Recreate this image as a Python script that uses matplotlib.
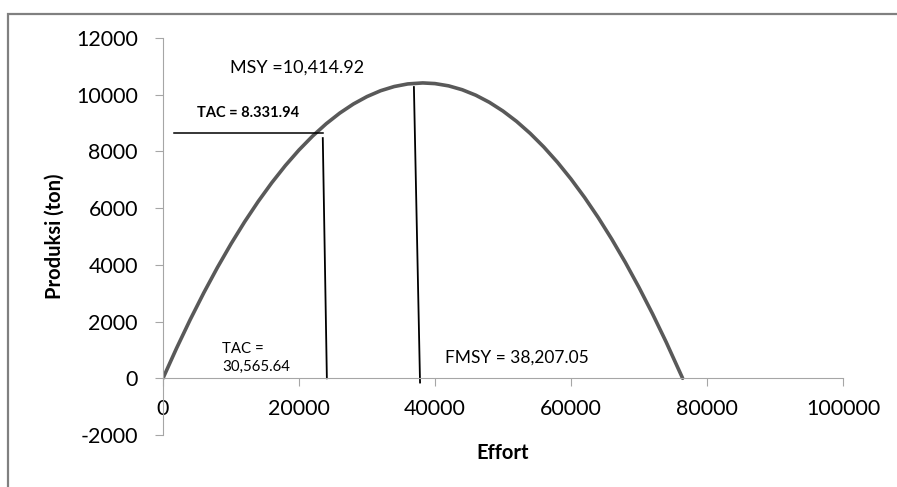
import matplotlib.pyplot as plt
from matplotlib.patches import Rectangle

plt.rcParams['font.family'] = ['Lato', 'DejaVu Sans']
plt.rcParams['axes.unicode_minus'] = False

# Surplus production curve
effort = [0, 2000, 4000, 6000, 8000, 10000, 12000, 14000, 16000, 18000, 20000,
          22000, 24000, 26000, 28000, 30000, 32000, 34000, 36000, 38207, 40000,
          42000, 44000, 46000, 48000, 50000, 52000, 54000, 56000, 58000, 60000,
          62000, 64000, 66000, 68000, 70000, 72000, 74000, 76414]
produksi = [0, 1062, 2067, 3014, 3905, 4738, 5515, 6234, 6896, 7502, 8050,
            8541, 8975, 9352, 9672, 9934, 10140, 10288, 10380, 10415, 10392,
            10312, 10175, 9982, 9731, 9423, 9058, 8635, 8156, 7620, 7026,
            6376, 5669, 4904, 4082, 3203, 2268, 1274, 0]

# Reference lines (as drawn in the chart)
tac_h_effort = [1600, 23500]
tac_h_catch = [8650, 8650]
tac_v_effort = [23500, 24100]
tac_v_catch = [8470, 0]
msy_v_effort = [36900, 37800]
msy_v_catch = [10270, -150]

xticks = [0, 20000, 40000, 60000, 80000, 100000]
yticks = [-2000, 0, 2000, 4000, 6000, 8000, 10000, 12000]

fig = plt.figure(figsize=(8.97, 4.87), dpi=100)
ax = fig.add_axes([0.1817, 0.1068, 0.7581, 0.8152])

ax.plot(effort, produksi, color='#595959', lw=2.6, solid_capstyle='round', solid_joinstyle='round')
ax.plot(tac_h_effort, tac_h_catch, color='black', lw=1.1)
ax.plot(tac_v_effort, tac_v_catch, color='black', lw=1.3)
ax.plot(msy_v_effort, msy_v_catch, color='black', lw=1.3)

ax.set_xlim(0, 100000)
ax.set_ylim(-2000, 12000)
ax.set_xticks(xticks)
ax.set_yticks(yticks)

for s in ['top', 'right']:
    ax.spines[s].set_visible(False)
ax.spines['bottom'].set_position(('data', 0))
ax.spines['bottom'].set_color('#a6a6a6')
ax.spines['left'].set_color('#a6a6a6')
ax.tick_params(axis='x', direction='out', length=6, color='#a6a6a6', pad=9, labelsize=15.4)
ax.tick_params(axis='y', direction='out', length=6, color='#a6a6a6', pad=12, labelsize=15.4)

ax.text(9850, 10940, 'MSY =10,414.92', fontsize=13, va='center', ha='left')
ax.text(5000, 9350, 'TAC = 8.331.94', fontsize=10.5, fontweight='bold', va='center', ha='left')
ax.text(8700, 720, 'TAC =\n30,565.64', fontsize=10.8, va='center', ha='left', linespacing=1.3)
ax.text(41400, 740, 'FMSY = 38,207.05', fontsize=12.5, va='center', ha='left')

ax.text(0.5, -0.045, 'Effort', transform=ax.transAxes, fontsize=14.5, fontweight='bold',
        ha='center', va='center')
ax.text(-0.159, 0.5, 'Produksi (ton)', transform=ax.transAxes, fontsize=14.5, fontweight='bold',
        ha='center', va='center', rotation=90)

# chart area border
fig.patches.append(Rectangle((8 / 897, -0.1), 1.2, 1 - 14 / 487 + 0.1, transform=fig.transFigure,
                             fill=False, edgecolor='#808080', lw=1.6))

fig.savefig('out.png', dpi=100)
